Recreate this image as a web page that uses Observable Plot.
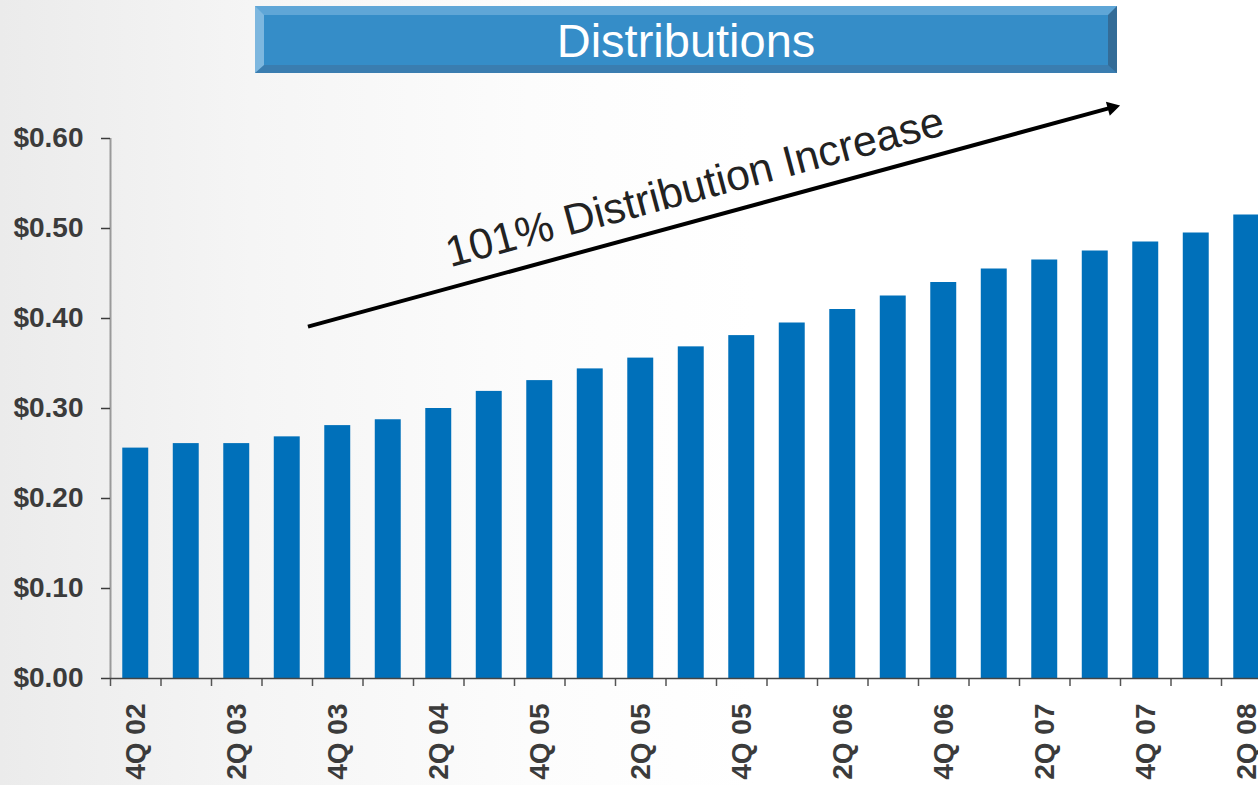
<!DOCTYPE html>
<html>
<head>
<meta charset="utf-8">
<script src="https://cdn.jsdelivr.net/npm/d3@7"></script>
<script src="https://cdn.jsdelivr.net/npm/@observablehq/plot@0.6"></script>
<style>
  html, body { margin: 0; padding: 0; width: 1258px; height: 785px; overflow: hidden; }
  body {
    position: relative;
    background: linear-gradient(90deg, #ebebeb 0%, #f5f5f5 20%, #fcfcfc 42%, #ffffff 60%);
    font-family: "Liberation Sans", Arial, sans-serif;
  }
  #chart { position: absolute; left: 0; top: 0; width: 1272px; }
  #chart svg { max-width: none !important; }
  #banner {
    position: absolute; left: 255px; top: 6px; width: 862px; height: 67px;
    box-sizing: border-box;
    background: #358dc8;
    border-style: solid;
    border-width: 9px 9px 8px 9px;
    border-color: #5fa6d7 #346c97 #3a7db0 #7db7df;
    color: #ffffff; text-align: center;
    font-size: 47px; line-height: 52px; z-index: 2;
  }
</style>
</head>
<body>
<div id="banner">Distributions</div>
<div id="chart"></div>
<script>
// Quarters (categories)
const quarters = ["4Q 02","1Q 03","2Q 03","3Q 03","4Q 03","1Q 04","2Q 04","3Q 04","4Q 04",
                  "1Q 05","2Q 05","3Q 05","4Q 05","1Q 06","2Q 06","3Q 06","4Q 06",
                  "1Q 07","2Q 07","3Q 07","4Q 07","1Q 08","2Q 08"];
// Distribution per quarter ($)
const distributions = [0.256, 0.261, 0.261, 0.2685, 0.281, 0.2875, 0.300, 0.319, 0.331,
                       0.344, 0.356, 0.3685, 0.381, 0.395, 0.410, 0.425, 0.440,
                       0.455, 0.465, 0.475, 0.485, 0.495, 0.515];
// Tick labels shown (every other quarter, as printed on the original)
const xTickLabels = ["4Q 02","2Q 03","4Q 03","2Q 04","4Q 05","2Q 05","4Q 05","2Q 06","4Q 06","2Q 07","4Q 07","2Q 08"];
const yTicks = [0, 0.1, 0.2, 0.3, 0.4, 0.5, 0.6];
// Annotation (in data units: quarter index, $)
const annotationText = "101% Distribution Increase";
const arrowStart = {i: 3.41, v: 0.391};
const arrowEnd = {i: 19.5, v: 0.637};
const annotationPos = {i: 11.07, v: 0.5456};

const data = quarters.map((q, i) => ({q, i, v: distributions[i]}));
const labelIdx = xTickLabels.map((_, k) => k * 2);
const sepTicks = d3.range(-1, quarters.length).map(k => k + 0.5);

const font = '"Liberation Sans", Arial, sans-serif';
const dirAngle = Math.atan2(-(arrowEnd.v - arrowStart.v) * 900, (arrowEnd.i - arrowStart.i) * 50.5) * 180 / Math.PI;

const chart = Plot.plot({
  width: 1272,
  height: 785,
  marginTop: 138,
  marginBottom: 107,
  marginLeft: 110,
  marginRight: 0.5,
  style: {background: "transparent", fontFamily: font, overflow: "visible", maxWidth: "none"},
  x: {type: "linear", domain: [-0.5, quarters.length - 0.5], axis: null},
  y: {domain: [0, 0.6], axis: null},
  marks: [
    Plot.rectY(data, {x1: d => d.i - 0.257, x2: d => d.i + 0.257, y: "v", fill: "#0070ba"}),
    Plot.ruleX([-0.5], {y1: 0, y2: 0.6, stroke: "#9a9a9a", strokeWidth: 2}),
    Plot.axisY({ticks: yTicks, tickFormat: d => "$" + d.toFixed(2), tickSize: 9, tickPadding: 18, label: null,
                fontSize: 28, fontWeight: "bold", fontFamily: font, color: "#3b3b3b", strokeWidth: 1.5}),
    Plot.axisX({ticks: sepTicks, tickFormat: () => "", tickSize: 8, label: null, color: "#555", strokeWidth: 1.5}),
    Plot.ruleY([0], {stroke: "#444", strokeWidth: 1.5}),
    Plot.axisX({ticks: labelIdx, tickFormat: i => xTickLabels[i / 2], tickSize: 0, tickPadding: 25, label: null,
                tickRotate: -90, fontSize: 28, fontWeight: "bold", fontFamily: font, color: "#3b3b3b"}),
    Plot.link([{}], {x1: () => arrowStart.i, y1: () => arrowStart.v, x2: () => arrowEnd.i - 0.2, y2: () => arrowEnd.v - 0.003,
                     stroke: "#000", strokeWidth: 4}),
    Plot.dot([{}], {x: () => arrowEnd.i - 0.17, y: () => arrowEnd.v - 0.0027, symbol: "triangle2", r: 7,
                    fill: "#000", stroke: "none", rotate: 90 + dirAngle}),
    Plot.text([annotationText], {x: () => annotationPos.i, y: () => annotationPos.v, text: d => d,
                    rotate: -15, fontSize: 43, fontFamily: font, fill: "#222"})
  ]
});
document.getElementById("chart").appendChild(chart);
</script>
</body>
</html>
